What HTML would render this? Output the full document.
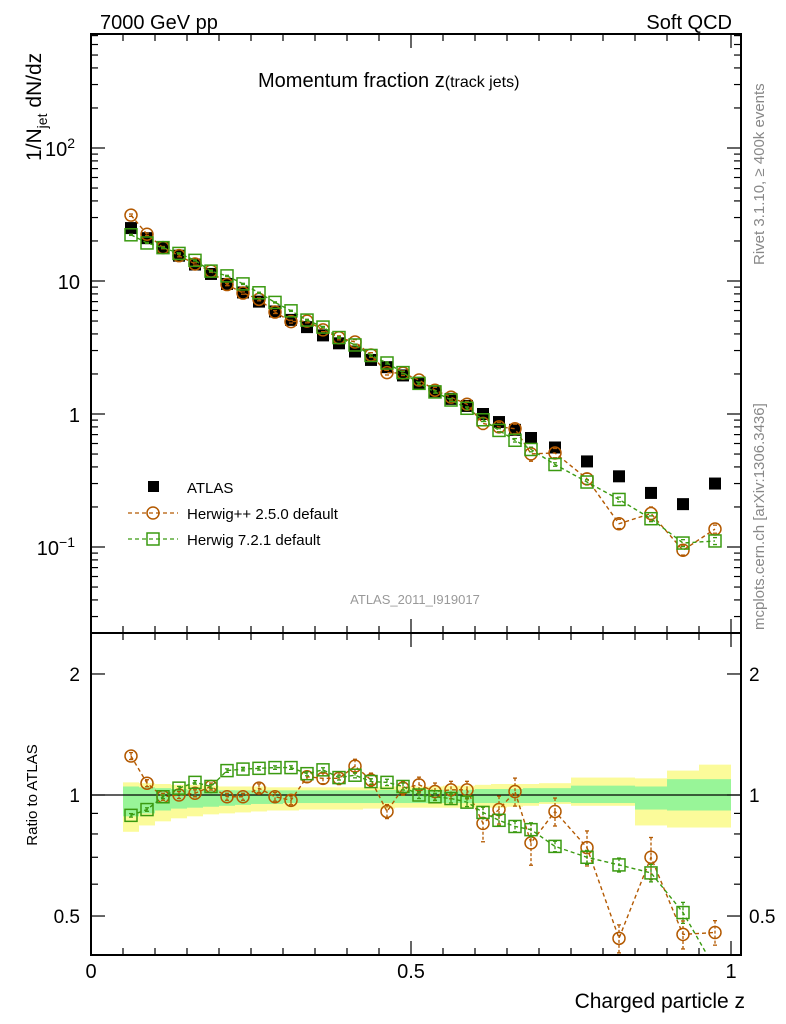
<!DOCTYPE html>
<html><head><meta charset="utf-8"><style>
body{margin:0;background:#fff;}
svg{display:block;font-family:"Liberation Sans",sans-serif;}
</style></head><body>
<svg id="c" width="786" height="1024" viewBox="0 0 786 1024">
<text x="100" y="29" font-size="20">7000 GeV pp</text>
<text x="732" y="29" font-size="20" text-anchor="end">Soft QCD</text>
<text x="258" y="87" font-size="20">Momentum fraction z<tspan font-size="16">(track jets)</tspan></text>
<text transform="translate(41,161) rotate(-90)" font-size="21">1/N<tspan font-size="14" dy="6">jet</tspan><tspan dy="-6"> dN/dz</tspan></text>
<text transform="translate(764,265) rotate(-90)" font-size="15" fill="#888">Rivet 3.1.10, ≥ 400k events</text>
<text transform="translate(764,630) rotate(-90)" font-size="15" fill="#888">mcplots.cern.ch [arXiv:1306.3436]</text>
<text x="415" y="604" font-size="13" fill="#999" text-anchor="middle">ATLAS_2011_I919017</text>
<text transform="translate(37,795) rotate(-90)" font-size="15" text-anchor="middle">Ratio to ATLAS</text>
<text x="745" y="1008" font-size="21" text-anchor="end">Charged particle z</text>
<g id="bands"></g><g id="main"></g><g id="ratio"></g><g id="axes"></g>
<g>
<rect x="148" y="481" width="11" height="11" fill="#000"/>
<text x="187" y="493" font-size="15">ATLAS</text>
<line x1="128" y1="513" x2="178" y2="513" stroke="#b35900" stroke-dasharray="4,3" stroke-width="1.3"/>
<circle cx="153" cy="513" r="6" fill="none" stroke="#b35900" stroke-width="1.5"/>
<text x="187" y="519" font-size="15">Herwig++ 2.5.0 default</text>
<line x1="128" y1="539" x2="178" y2="539" stroke="#3a9a10" stroke-dasharray="4,3" stroke-width="1.3"/>
<rect x="147" y="533" width="12" height="12" fill="none" stroke="#3a9a10" stroke-width="1.5"/>
<text x="187" y="545" font-size="15">Herwig 7.2.1 default</text>
</g>
</svg>
<script>
const binLo=[0.05,0.075,0.1,0.125,0.15,0.175,0.2,0.225,0.25,0.275,0.3,0.325,0.35,0.375,0.4,0.425,0.45,0.475,0.5,0.525,0.55,0.575,0.6,0.625,0.65,0.675,0.7,0.75,0.8,0.85,0.9,0.95];
const binHi=[0.075,0.1,0.125,0.15,0.175,0.2,0.225,0.25,0.275,0.3,0.325,0.35,0.375,0.4,0.425,0.45,0.475,0.5,0.525,0.55,0.575,0.6,0.625,0.65,0.675,0.7,0.75,0.8,0.85,0.9,0.95,1.0];
const atlas=[25,21,18,15.5,13.3,11.3,9.5,8.2,7.0,5.9,5.1,4.5,3.9,3.4,2.95,2.55,2.25,1.95,1.7,1.48,1.3,1.15,1.0,0.87,0.76,0.66,0.56,0.44,0.34,0.255,0.21,0.30];
const ratioHpp=[1.25,1.07,0.99,1.0,1.01,1.05,0.99,0.99,1.04,0.99,0.97,1.11,1.10,1.10,1.18,1.09,0.91,1.04,1.06,1.02,1.03,1.03,0.85,0.92,1.02,0.76,0.91,0.74,0.44,0.70,0.45,0.455];
const errHpp=[0.02,0.02,0.02,0.02,0.02,0.02,0.02,0.02,0.025,0.025,0.025,0.03,0.03,0.035,0.04,0.04,0.04,0.04,0.045,0.05,0.05,0.05,0.1,0.08,0.08,0.12,0.08,0.1,0.08,0.12,0.08,0.07];
const ratioH7=[0.89,0.92,0.99,1.04,1.075,1.05,1.15,1.16,1.165,1.17,1.17,1.13,1.155,1.105,1.12,1.08,1.075,1.05,1.0,0.99,0.98,0.96,0.905,0.865,0.835,0.82,0.745,0.70,0.67,0.64,0.51,0.37];
const errH7=[0.01,0.01,0.01,0.01,0.01,0.01,0.01,0.01,0.01,0.01,0.01,0.012,0.012,0.014,0.015,0.016,0.018,0.02,0.02,0.02,0.025,0.025,0.03,0.03,0.03,0.04,0.03,0.04,0.04,0.05,0.06,0.06];
const yelHi=[1.075,1.07,1.065,1.06,1.06,1.055,1.05,1.05,1.05,1.045,1.045,1.045,1.045,1.045,1.045,1.045,1.05,1.05,1.05,1.05,1.055,1.055,1.06,1.065,1.065,1.065,1.07,1.105,1.105,1.10,1.15,1.19];
const yelLo=[0.81,0.84,0.86,0.875,0.885,0.895,0.9,0.905,0.91,0.915,0.915,0.92,0.92,0.92,0.92,0.925,0.925,0.93,0.93,0.93,0.93,0.93,0.93,0.93,0.935,0.94,0.95,0.94,0.94,0.84,0.83,0.83];
const grnHi=[1.05,1.045,1.04,1.035,1.03,1.03,1.028,1.027,1.027,1.027,1.027,1.027,1.027,1.027,1.027,1.027,1.03,1.03,1.03,1.03,1.03,1.03,1.035,1.035,1.035,1.04,1.04,1.055,1.055,1.05,1.095,1.095];
const grnLo=[0.885,0.9,0.915,0.925,0.93,0.935,0.94,0.945,0.95,0.95,0.955,0.955,0.955,0.955,0.955,0.955,0.955,0.955,0.955,0.955,0.955,0.955,0.955,0.955,0.955,0.955,0.96,0.955,0.955,0.92,0.915,0.915];
const mainTicks=[[100,"10","2"],[10,"10",""],[1,"1",""],[0.1,"10","−1"]];
const ratioTicks=[2,1,0.5];
const xTicks=[0,0.5,1];

const NS="http://www.w3.org/2000/svg";
const L=91,R=741,T=34,MB=633,B=955;
const X=z=>L+z*640;
const YM=v=>414-Math.log10(v)*133;
const YR=r=>795-Math.log10(r)*402;
function mk(tag,attrs,parent){const e=document.createElementNS(NS,tag);for(const k in attrs)e.setAttribute(k,attrs[k]);parent.appendChild(e);return e;}
const gB=document.getElementById('bands'),gM=document.getElementById('main'),gR=document.getElementById('ratio'),gA=document.getElementById('axes');
const cen=binLo.map((l,i)=>(l+binHi[i])/2);
const clipY=y=>Math.max(MB,Math.min(B,y));
binLo.forEach((l,i)=>{
 let r=mk('rect',{x:X(l),y:YR(yelHi[i]),width:X(binHi[i])-X(l),height:YR(yelLo[i])-YR(yelHi[i]),fill:'#fbfb9a'},gB);
 
 
 let g=mk('rect',{x:X(l),y:YR(grnHi[i]),width:X(binHi[i])-X(l),height:YR(grnLo[i])-YR(grnHi[i]),fill:'#98f598'},gB);
 
 
});
mk('line',{x1:L,y1:YR(1),x2:R,y2:YR(1),stroke:'#000','stroke-width':1.3},gB);
function series(vals,err,color,shape,g,Y,name){
 const pts=cen.map((c,i)=>[X(c),Y(vals[i])]);
 const p=mk('polyline',{points:pts.map(q=>q[0]+','+q[1]).join(' '),fill:'none',stroke:color,'stroke-width':1.4,'stroke-dasharray':'4,3'},g);
 
 
 pts.forEach((q,i)=>{
  if(q[1]>B+8) return;
  const v=vals[i],e=err[i];
  const y1=Y(v*(1+e)),y2=Y(v*(1-e));
  mk('line',{x1:q[0],y1:clipY(y1),x2:q[0],y2:clipY(y2),stroke:color,'stroke-width':1.3,'stroke-dasharray':'3,2'},g);
  mk('line',{x1:q[0]-2,y1:y1,x2:q[0]+2,y2:y1,stroke:color,'stroke-width':1.3},g);
  mk('line',{x1:q[0]-2,y1:y2,x2:q[0]+2,y2:y2,stroke:color,'stroke-width':1.3},g);
  let m;
  if(shape==='c') m=mk('circle',{cx:q[0],cy:q[1],r:6,fill:'none',stroke:color,'stroke-width':1.5},g);
  else m=mk('rect',{x:q[0]-6,y:q[1]-6,width:12,height:12,fill:'none',stroke:color,'stroke-width':1.5},g);
  
  
 });
}
atlas.forEach((v,i)=>{
 const r=mk('rect',{x:X(cen[i])-6,y:YM(v)-6,width:12,height:12,fill:'#000'},gM);
 
 
});
const hpp=atlas.map((a,i)=>a*ratioHpp[i]), h7=atlas.map((a,i)=>a*ratioH7[i]);
series(hpp,errHpp,'#b35900','c',gM,YM,'herwigpp');
series(h7,errH7,'#3a9a10','s',gM,YM,'herwig7');
const cp=mk('clipPath',{id:'rc'},gR);mk('rect',{x:L,y:MB,width:R-L,height:B-MB},cp);
const gRi=mk('g',{'clip-path':'url(#rc)'},gR);
series(ratioHpp,errHpp,'#b35900','c',gRi,YR,'ratio-herwigpp');
series(ratioH7,errH7,'#3a9a10','s',gRi,YR,'ratio-herwig7');
[[T,MB],[MB,B]].forEach(([t,b])=>mk('rect',{x:L,y:t,width:R-L,height:b-t,fill:'none',stroke:'#000','stroke-width':2},gA));
for(let d=-2;d<=2;d++)for(let m=1;m<10;m++){const v=m*Math.pow(10,d),y=YM(v);if(y<T||y>MB)continue;const len=m===1?14:7;
 mk('line',{x1:L,y1:y,x2:L+len,y2:y,stroke:'#000','stroke-width':1.2},gA);mk('line',{x1:R-len,y1:y,x2:R,y2:y,stroke:'#000','stroke-width':1.2},gA);}
mainTicks.forEach(t=>{const y=YM(t[0]);const tx=mk('text',{x:t[2]?75:80,y:y+8,'font-size':20,'text-anchor':'end'},gA);
 
 
 tx.textContent=t[1];if(t[2]){const s=mk('tspan',{dy:-8,'font-size':14},tx);s.textContent=t[2];}});
[0.5,0.6,0.7,0.8,0.9,1,2].forEach(v=>{const y=YR(v);const len=(v===1||v===2||v===0.5)?14:7;
 mk('line',{x1:L,y1:y,x2:L+len,y2:y,stroke:'#000','stroke-width':1.2},gA);mk('line',{x1:R-len,y1:y,x2:R,y2:y,stroke:'#000','stroke-width':1.2},gA);});
ratioTicks.forEach(v=>{const y=YR(v)+7;
 const a=mk('text',{x:80,y:y,'font-size':19,'text-anchor':'end'},gA);a.textContent=v;
 
 
 const b=mk('text',{x:749,y:y,'font-size':19},gA);b.textContent=v;
 
 });
for(let k=0;k<=20;k++){const z=k*0.05,x=X(z);const len=k%10===0?14:7;
 [[T,1],[MB,1],[B,-1]].forEach(([y0,s])=>{if(y0===MB){mk('line',{x1:x,y1:MB,x2:x,y2:MB-len,stroke:'#000','stroke-width':1.2},gA);mk('line',{x1:x,y1:MB,x2:x,y2:MB+len,stroke:'#000','stroke-width':1.2},gA);}
  else mk('line',{x1:x,y1:y0,x2:x,y2:y0+s*len,stroke:'#000','stroke-width':1.2},gA);});}
xTicks.forEach(z=>{const t=mk('text',{x:X(z),y:978,'font-size':20,'text-anchor':'middle'},gA);t.textContent=z;
 
 });
</script>
</body></html>
